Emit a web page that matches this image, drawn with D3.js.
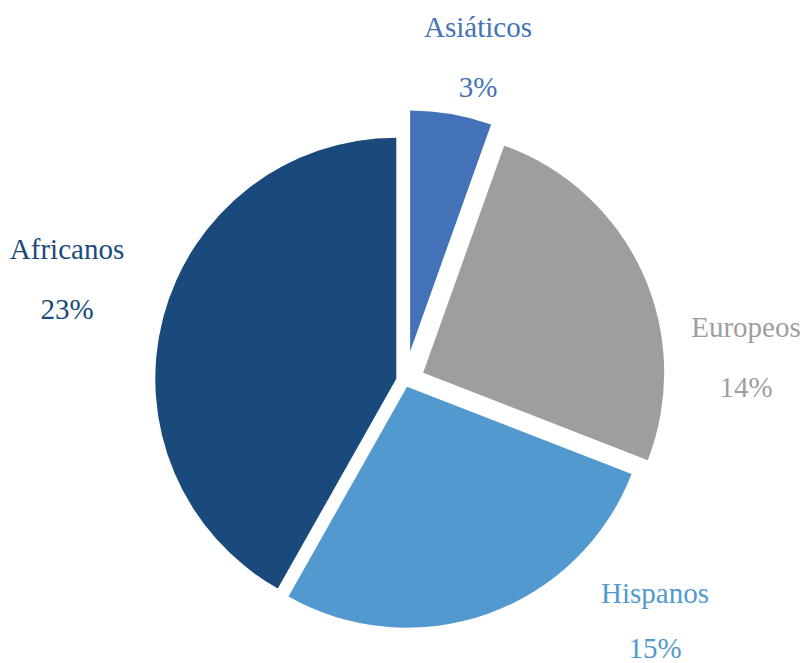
<!DOCTYPE html>
<html>
<head>
<meta charset="utf-8">
<script src="https://cdn.jsdelivr.net/npm/d3@7/dist/d3.min.js"></script>
<style>
  html, body { margin: 0; padding: 0; background: #ffffff; }
  svg { display: block; }
</style>
</head>
<body>
<svg id="chart" width="803" height="663"></svg>
<script>
// ---- data ----
const categories = ["Asiáticos", "Europeos", "Hispanos", "Africanos"];
const values = [3, 14, 15, 23];
const valueLabels = ["3%", "14%", "15%", "23%"];

// ---- style / layout ----
const colors = ["#4472b8", "#9d9ea0", "#5299cf", "#1a4a7b"];
const explode = [30, 20, 6, 9];
const labelPos = [[478, 37], [746, 337], [655, 603], [67, 259]];
const valueGap = [60, 60, 55, 60];
const center = [405, 381];
const radius = 241;

const svg = d3.select("#chart");
const g = svg.append("g").attr("transform", `translate(${center[0]},${center[1]})`);

const pie = d3.pie().sort(null).startAngle(0).endAngle(2 * Math.PI);
const arcs = pie(values);
const arc = d3.arc().innerRadius(0).outerRadius(radius);

g.selectAll("path.slice")
  .data(arcs)
  .join("path")
  .attr("class", "slice")
  .attr("d", arc)
  .attr("fill", (d, i) => colors[i])
  .attr("transform", (d, i) => {
    const a = (d.startAngle + d.endAngle) / 2;
    return `translate(${explode[i] * Math.sin(a)},${-explode[i] * Math.cos(a)})`;
  });

const labels = svg.append("g")
  .attr("font-family", "'Liberation Serif', 'Times New Roman', serif")
  .attr("font-size", 29)
  .attr("text-anchor", "middle");

categories.forEach((c, i) => {
  labels.append("text")
    .attr("x", labelPos[i][0]).attr("y", labelPos[i][1])
    .attr("fill", colors[i]).text(c);
  labels.append("text")
    .attr("x", labelPos[i][0]).attr("y", labelPos[i][1] + valueGap[i])
    .attr("fill", colors[i]).text(valueLabels[i]);
});
</script>
</body>
</html>
